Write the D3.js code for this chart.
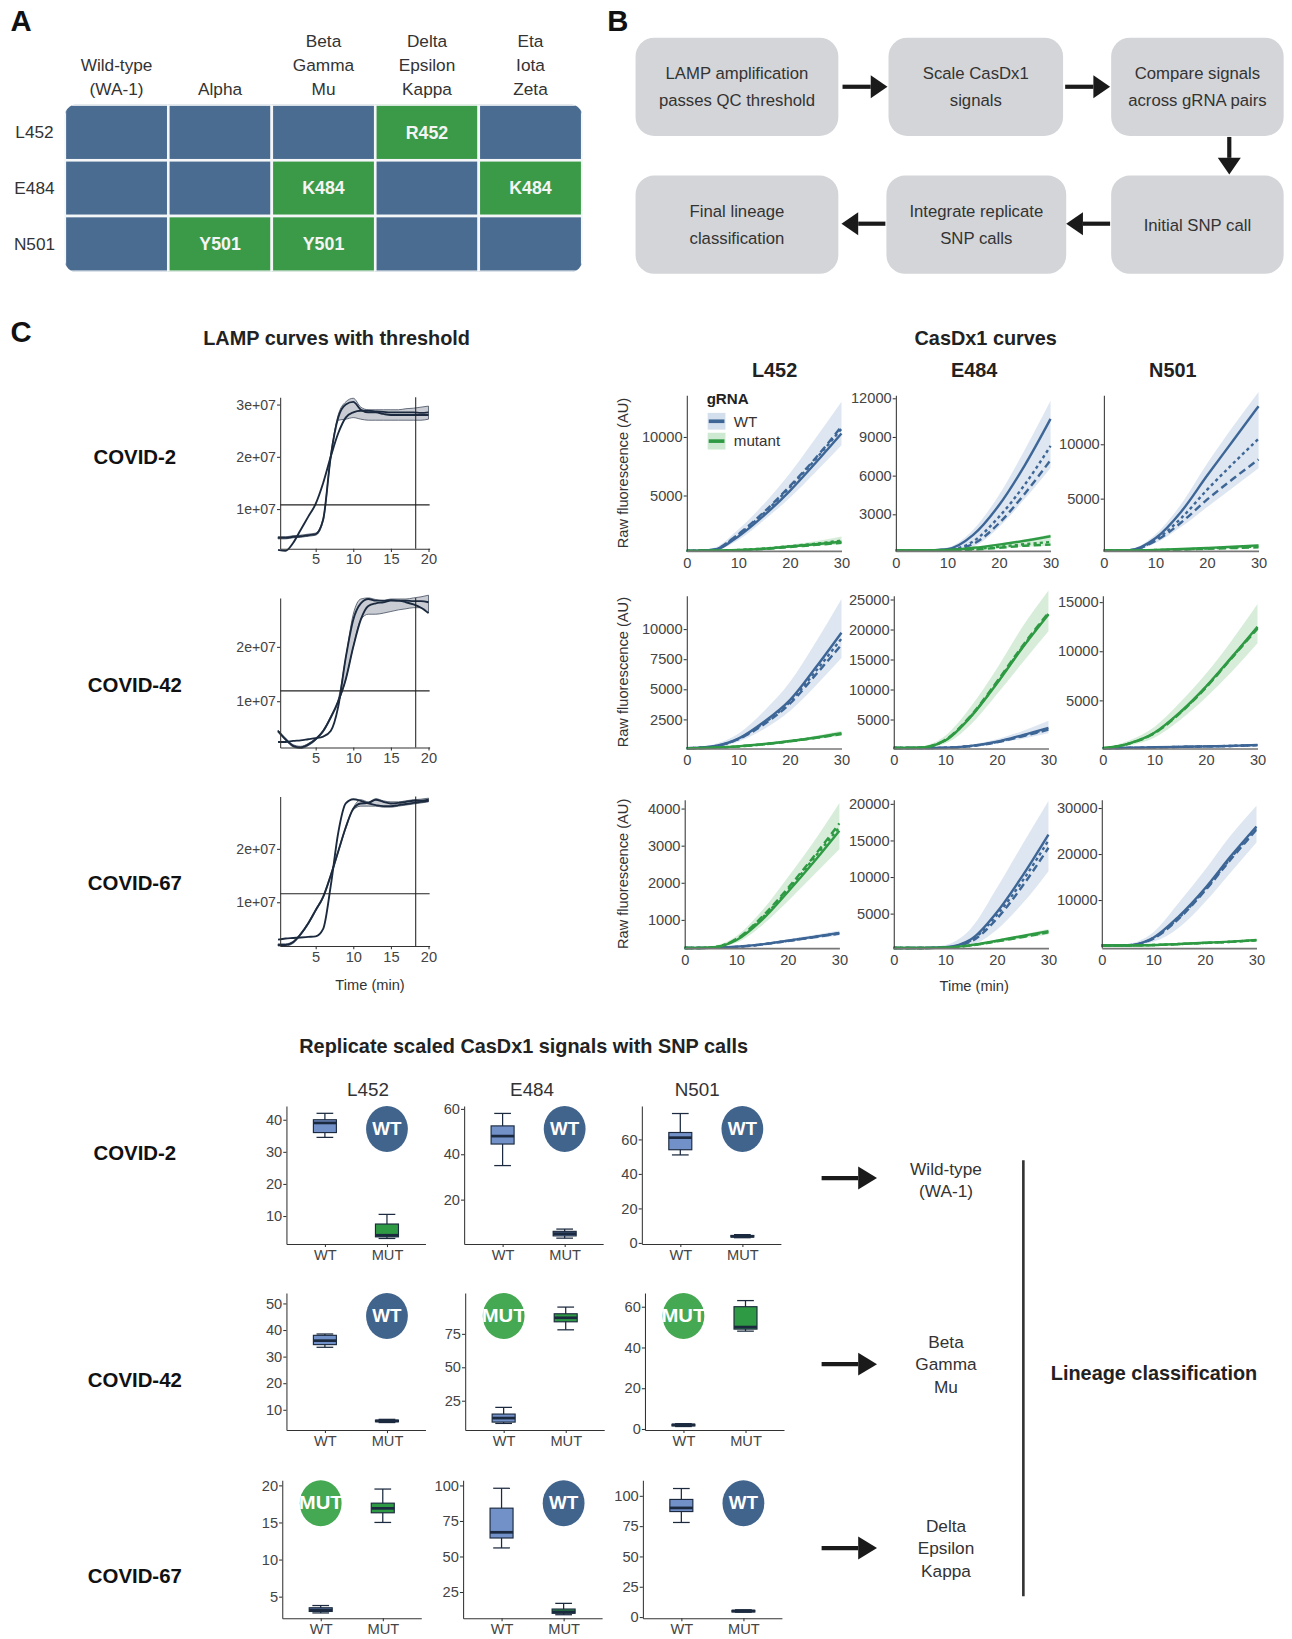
<!DOCTYPE html>
<html>
<head>
<meta charset="utf-8">
<script src="https://cdn.jsdelivr.net/npm/d3@7"></script>
<style>
  body { margin: 0; background: #fff; }
  svg text { font-family: "Liberation Sans", Arial, Helvetica, sans-serif; }
</style>
</head>
<body>
<div id="fig"></div>
<script>
// ---------- Panel A: mutation table ----------
const variants = [['Wild-type', '(WA-1)'], ['Alpha'], ['Beta', 'Gamma', 'Mu'], ['Delta', 'Epsilon', 'Kappa'], ['Eta', 'Iota', 'Zeta']];
const sites = ['L452', 'E484', 'N501'];
const mutationTable = [
  ['', '', '', 'R452', ''],
  ['', '', 'K484', '', 'K484'],
  ['', 'Y501', 'Y501', '', '']
];

// ---------- Panel B: workflow ----------
const workflowSteps = [
  ['LAMP amplification', 'passes QC threshold'],
  ['Scale CasDx1', 'signals'],
  ['Compare signals', 'across gRNA pairs'],
  ['Final lineage', 'classification'],
  ['Integrate replicate', 'SNP calls'],
  ['Initial SNP call']
];

// ---------- Panel C: samples ----------
const samples = ['COVID-2', 'COVID-42', 'COVID-67'];

// LAMP curves (fluorescence in units of 1e+07)
const lampTime = [0, 1, 2, 3, 4, 5, 6, 7, 8, 9, 10, 11, 12, 13, 14, 15, 16, 17, 18, 19, 20];
const lampCurveA = [
  [0.45, 0.45, 0.47, 0.48, 0.5, 0.52, 0.8, 2.0, 2.75, 3.0, 3.05, 2.9, 2.85, 2.85, 2.82, 2.8, 2.8, 2.8, 2.8, 2.8, 2.8],
  [0.45, 0.3, 0.18, 0.15, 0.2, 0.3, 0.45, 0.7, 1.0, 1.4, 2.0, 2.5, 2.75, 2.8, 2.82, 2.85, 2.85, 2.82, 2.78, 2.72, 2.62],
  [0.2, 0.2, 0.25, 0.4, 0.6, 0.85, 1.1, 1.5, 1.95, 2.4, 2.75, 2.85, 2.86, 2.92, 2.88, 2.85, 2.86, 2.88, 2.9, 2.9, 2.92]
];
const lampCurveB = [
  [0.22, 0.2, 0.35, 0.6, 0.85, 1.1, 1.5, 2.0, 2.45, 2.75, 2.85, 2.88, 2.88, 2.87, 2.86, 2.85, 2.85, 2.85, 2.85, 2.84, 2.85],
  [0.25, 0.25, 0.27, 0.28, 0.3, 0.32, 0.35, 0.45, 0.9, 1.8, 2.5, 2.8, 2.88, 2.85, 2.85, 2.86, 2.85, 2.85, 2.84, 2.84, 2.82],
  [0.3, 0.32, 0.33, 0.34, 0.35, 0.36, 0.5, 1.3, 2.3, 2.85, 2.93, 2.9, 2.85, 2.82, 2.8, 2.8, 2.82, 2.84, 2.86, 2.88, 2.9]
];
const lampBandLo = [
  [0.43, 0.43, 0.45, 0.46, 0.48, 0.5, 0.77, 1.96, 2.7, 2.72, 2.75, 2.72, 2.7, 2.7, 2.7, 2.7, 2.7, 2.7, 2.7, 2.7, 2.72],
  [0.43, 0.28, 0.16, 0.13, 0.18, 0.28, 0.43, 0.68, 0.97, 1.4, 2.0, 2.5, 2.6, 2.6, 2.62, 2.65, 2.68, 2.7, 2.72, 2.72, 2.62],
  [0.18, 0.18, 0.23, 0.38, 0.58, 0.83, 1.08, 1.48, 1.93, 2.38, 2.73, 2.8, 2.8, 2.8, 2.78, 2.78, 2.8, 2.82, 2.84, 2.86, 2.88]
];
const lampBandHi = [
  [0.47, 0.47, 0.49, 0.5, 0.52, 0.54, 0.83, 2.04, 2.8, 3.05, 3.12, 2.95, 2.9, 2.9, 2.9, 2.9, 2.9, 2.92, 2.93, 2.95, 2.97],
  [0.47, 0.32, 0.2, 0.17, 0.22, 0.32, 0.47, 0.72, 1.03, 1.8, 2.6, 2.88, 2.9, 2.87, 2.85, 2.88, 2.88, 2.88, 2.9, 2.92, 2.95],
  [0.22, 0.22, 0.27, 0.42, 0.62, 0.87, 1.12, 1.52, 1.97, 2.42, 2.77, 2.92, 2.88, 2.94, 2.9, 2.88, 2.88, 2.9, 2.92, 2.93, 2.95]
];
const lampThreshold = [1.08, 1.19, 1.16];
const lampCutoffTime = 18.3;
const lampYDomain = [[0.24, 3.14], [0.15, 2.9], [0.18, 2.98]];
const lampYTicks = [[1, 2, 3], [1, 2], [1, 2]];
const lampXTicks = [5, 10, 15, 20];

// CasDx1 curves: [sample][site], three replicate line types + ribbon
const casTime = [0, 5, 10, 15, 20, 25, 30];
const casWT = [
  [
    { solid: [270, 320, 1500, 3300, 5400, 7800, 10300], dash: [270, 360, 1700, 3600, 5800, 8200, 10900], dot: [270, 340, 1650, 3500, 5700, 8100, 10700], lo: [240, 260, 1200, 2900, 4800, 7000, 9300], hi: [300, 500, 2100, 4300, 6900, 9900, 13000] },
    { solid: [200, 200, 300, 1400, 3700, 6800, 10400], dash: [200, 200, 220, 700, 2300, 4600, 7200], dot: [200, 200, 250, 900, 2800, 5300, 8300], lo: [170, 170, 180, 500, 2000, 4200, 6600], hi: [230, 230, 420, 1800, 4500, 8000, 11800] },
    { solid: [220, 260, 1350, 3800, 7100, 10300, 13500], dash: [220, 250, 1100, 2800, 4900, 6800, 8600], dot: [220, 250, 1200, 3200, 5800, 8200, 10500], lo: [200, 220, 900, 2400, 4200, 6000, 7800], hi: [250, 350, 1700, 4500, 8200, 11600, 14800] }
  ],
  [
    { solid: [100, 250, 900, 2300, 4100, 6800, 9700], dash: [100, 230, 850, 2100, 3800, 6200, 8700], dot: [100, 240, 880, 2200, 3950, 6500, 9200], lo: [90, 180, 650, 1700, 3200, 5300, 7600], hi: [130, 400, 1300, 3200, 5600, 8900, 12500] },
    { solid: [250, 250, 300, 600, 1300, 2400, 3600], dash: [250, 250, 290, 560, 1200, 2200, 3300], dot: [250, 250, 295, 580, 1250, 2300, 3450], lo: [200, 200, 250, 450, 1000, 1800, 2700], hi: [300, 300, 380, 800, 1700, 3100, 4800] },
    { solid: [120, 170, 220, 270, 320, 370, 460], dash: [120, 165, 210, 260, 310, 360, 440], dot: [120, 168, 215, 265, 315, 365, 450], lo: [110, 140, 180, 220, 260, 300, 350], hi: [140, 200, 260, 320, 380, 440, 560] }
  ],
  [
    { solid: [240, 245, 275, 340, 440, 540, 650], dash: [240, 245, 270, 335, 430, 530, 630], dot: [240, 245, 272, 338, 435, 535, 640], lo: [240, 240, 255, 310, 400, 490, 580], hi: [250, 255, 290, 370, 480, 590, 710] },
    { solid: [300, 300, 400, 1500, 5200, 10200, 15800], dash: [300, 300, 350, 1200, 4300, 8800, 14000], dot: [300, 300, 380, 1350, 4800, 9500, 15000], lo: [290, 290, 310, 700, 2800, 6400, 10800], hi: [320, 330, 700, 3000, 8500, 14500, 20400] },
    { solid: [100, 150, 1800, 6500, 12500, 19500, 26000], dash: [100, 150, 1600, 6000, 12000, 18800, 25300], dot: [100, 150, 1700, 6200, 12200, 19100, 25700], lo: [50, 80, 900, 4000, 9500, 16000, 22500], hi: [150, 450, 3000, 9500, 16500, 24000, 30500] }
  ]
];
const casMut = [
  [
    { solid: [270, 280, 340, 450, 640, 830, 1050], dash: [270, 280, 330, 430, 600, 780, 950], dot: [270, 280, 350, 470, 670, 880, 1150], lo: [250, 260, 300, 380, 520, 680, 820], hi: [290, 300, 400, 560, 800, 1100, 1500] },
    { solid: [200, 200, 230, 400, 650, 950, 1300], dash: [200, 200, 200, 260, 400, 560, 650], dot: [200, 200, 210, 300, 480, 680, 850], lo: [180, 180, 190, 230, 350, 480, 560], hi: [220, 220, 260, 460, 730, 1050, 1450] },
    { solid: [220, 230, 280, 360, 460, 570, 700], dash: [220, 230, 260, 310, 380, 450, 520], dot: [220, 230, 270, 330, 410, 500, 600], lo: [200, 210, 240, 280, 340, 400, 460], hi: [240, 250, 310, 400, 520, 650, 800] }
  ],
  [
    { solid: [100, 150, 260, 450, 700, 1000, 1350], dash: [100, 145, 250, 430, 670, 960, 1280], dot: [100, 150, 255, 440, 690, 980, 1320], lo: [90, 130, 220, 380, 600, 860, 1150], hi: [110, 170, 300, 520, 800, 1140, 1550] },
    { solid: [250, 300, 1500, 5500, 11000, 17000, 22500], dash: [250, 300, 1600, 5700, 11300, 17300, 22800], dot: [250, 300, 1550, 5600, 11100, 17100, 22600], lo: [200, 250, 1000, 4200, 9200, 14500, 19700], hi: [300, 500, 2300, 7200, 13500, 20500, 26500] },
    { solid: [120, 600, 1700, 3800, 6400, 9400, 12500], dash: [120, 580, 1650, 3700, 6300, 9300, 12300], dot: [120, 590, 1680, 3750, 6350, 9350, 12400], lo: [110, 400, 1200, 3000, 5300, 7900, 10800], hi: [150, 900, 2300, 4800, 7700, 11100, 14800] }
  ],
  [
    { solid: [240, 250, 450, 1000, 1750, 2550, 3400], dash: [240, 250, 480, 1080, 1850, 2700, 3600], dot: [240, 260, 470, 1050, 1800, 2650, 3500], lo: [240, 245, 380, 850, 1500, 2200, 2900], hi: [260, 290, 560, 1250, 2150, 3100, 4150] },
    { solid: [300, 300, 350, 700, 1300, 1950, 2600], dash: [300, 300, 340, 650, 1200, 1800, 2450], dot: [300, 300, 345, 680, 1250, 1880, 2520], lo: [290, 290, 320, 580, 1050, 1600, 2150], hi: [310, 320, 390, 800, 1450, 2150, 2900] },
    { solid: [100, 110, 220, 450, 700, 950, 1300], dash: [100, 110, 200, 420, 660, 900, 1250], dot: [100, 110, 210, 430, 680, 920, 1270], lo: [60, 70, 150, 350, 570, 800, 1120], hi: [140, 150, 280, 550, 820, 1100, 1450] }
  ]
];
const casYDomain = [
  [[268, 13571], [162, 12243], [192, 14519]],
  [[87, 12760], [174, 25610], [106, 15638]],
  [[239, 4239], [286, 20571], [-455, 31818]]
];
const casYTicks = [
  [[5000, 10000], [3000, 6000, 9000, 12000], [5000, 10000]],
  [[2500, 5000, 7500, 10000], [5000, 10000, 15000, 20000, 25000], [5000, 10000, 15000]],
  [[1000, 2000, 3000, 4000], [5000, 10000, 15000, 20000], [10000, 20000, 30000]]
];
const casXTicks = [0, 10, 20, 30];

// Replicate scaled signals: [min, q1, median, q3, max]
const boxWT = [
  [[34.5, 36, 39, 40, 42], [35, 44.5, 48, 52.5, 58], [51, 54, 61, 64, 75]],
  [[33.5, 34.5, 36, 38, 38.5], [8, 9, 12, 15, 20], [1.2, 1.5, 2, 2.3, 2.6]],
  [[2.8, 3, 3.2, 3.5, 3.8], [56, 63, 67, 84, 98], [78, 87, 90, 97, 106]]
];
const boxMut = [
  [[3, 3.5, 4, 7.5, 10.5], [3, 4, 5, 6, 7], [3, 3.4, 3.8, 4.3, 4.8]],
  [[5.2, 5.5, 5.8, 6.1, 6.4], [78, 84, 87, 90, 95], [48, 49, 50, 60, 63]],
  [[15, 16.3, 16.9, 17.6, 19.5], [9, 10, 11, 13, 17], [4, 4.5, 5, 5.5, 6]]
];
const boxMutColour = [['green', 'blue', 'blue'], ['blue', 'green', 'green'], ['green', 'green', 'blue']];
const boxYDomain = [
  [[1.3, 44.3], [0.46, 61.3], [-0.6, 79.4]],
  [[2.4, 53.9], [3.1, 105.5], [-0.5, 66.7]],
  [[2.1, 20.7], [6.6, 103.7], [-0.9, 112.9]]
];
const boxYTicks = [
  [[10, 20, 30, 40], [20, 40, 60], [0, 20, 40, 60]],
  [[10, 20, 30, 40, 50], [25, 50, 75], [0, 20, 40, 60]],
  [[5, 10, 15, 20], [25, 50, 75, 100], [0, 25, 50, 75, 100]]
];
const snpCalls = [['WT', 'WT', 'WT'], ['WT', 'MUT', 'MUT'], ['MUT', 'WT', 'WT']];
const lineages = [['Wild-type', '(WA-1)'], ['Beta', 'Gamma', 'Mu'], ['Delta', 'Epsilon', 'Kappa']];

// ---------- colours ----------
const C = {
  tblBlue: '#4a6c91', tblGreen: '#3b9a48', box: '#d3d5d8',
  wt: '#3d6696', mut: '#2e9a43', wtBand: '#a9c0dc', mutBand: '#9bd3a3',
  navy: '#1b2a3f', axis: '#333', tick: '#444',
  boxBlue: '#7391c9', boxGreen: '#2f9a44', callWT: '#41648c', callMut: '#45a853'
};

// ---------- canvas (drawn in 1236-wide units, scaled to 1292) ----------
const S = 1292 / 1236;
const svg = d3.select('#fig').append('svg').attr('width', 1292).attr('height', 1639);
svg.append('rect').attr('width', 1292).attr('height', 1639).attr('fill', '#fff');
const root = svg.append('g').attr('transform', `scale(${S})`);
const plain = d3.format('d');

function txt(g, x, y, s, size, opts = {}) {
  return g.append('text').attr('x', x).attr('y', y)
    .attr('text-anchor', opts.anchor || 'middle')
    .attr('dy', opts.dy || '0.35em')
    .style('font-size', size + 'px')
    .style('font-weight', opts.bold ? 'bold' : 'normal')
    .attr('fill', opts.fill || '#333')
    .text(s);
}

function styleAxis(ax, fs) {
  ax.select('.domain').attr('stroke', C.axis).attr('stroke-width', 1);
  ax.selectAll('.tick line').attr('stroke', C.axis);
  ax.selectAll('.tick text').attr('fill', C.tick).style('font-size', fs + 'px');
}

function arrow(g, x1, y1, x2, y2, head = 16, half = 11, w = 4) {
  const a = Math.atan2(y2 - y1, x2 - x1);
  const bx = x2 - head * Math.cos(a), by = y2 - head * Math.sin(a);
  g.append('line').attr('x1', x1).attr('y1', y1).attr('x2', bx).attr('y2', by)
    .attr('stroke', '#1a1a1a').attr('stroke-width', w);
  const px = -Math.sin(a) * half, py = Math.cos(a) * half;
  g.append('polygon')
    .attr('points', `${x2},${y2} ${bx + px},${by + py} ${bx - px},${by - py}`)
    .attr('fill', '#1a1a1a');
}

// ---------- Panel letters ----------
txt(root, 10, 20, 'A', 28, { anchor: 'start', bold: true, fill: '#111' });
txt(root, 581, 20, 'B', 28, { anchor: 'start', bold: true, fill: '#111' });
txt(root, 10, 317, 'C', 28, { anchor: 'start', bold: true, fill: '#111' });

// ---------- Panel A ----------
const gA = root.append('g');
const xA = d3.scaleBand().domain(d3.range(variants.length)).range([62, 557]);
const yA = d3.scaleBand().domain(sites).range([100, 260]);
gA.append('clipPath').attr('id', 'tblclip').append('rect')
  .attr('x', 62).attr('y', 100).attr('width', 495).attr('height', 160).attr('rx', 11);
const cells = gA.append('g').attr('clip-path', 'url(#tblclip)');
sites.forEach((s, r) => {
  variants.forEach((v, c) => {
    const m = mutationTable[r][c];
    cells.append('rect').attr('x', xA(c)).attr('y', yA(s))
      .attr('width', xA.bandwidth()).attr('height', yA.bandwidth())
      .attr('fill', m ? C.tblGreen : C.tblBlue)
      .attr('stroke', '#f4f6f8').attr('stroke-width', 2.5);
    if (m) txt(gA, xA(c) + xA.bandwidth() / 2, yA(s) + yA.bandwidth() / 2, m, 17, { bold: true, fill: '#f4f4f4' });
  });
  txt(gA, 33, yA(s) + yA.bandwidth() / 2, s, 16.5);
});
variants.forEach((v, c) => {
  v.forEach((line, k) => {
    txt(gA, xA(c) + xA.bandwidth() / 2, 85 - (v.length - 1 - k) * 23, line, 16.5);
  });
});

// ---------- Panel B ----------
const gB = root.append('g');
const boxesB = [
  [608, 36, 194, 94], [850, 36, 167, 94], [1063, 36, 165, 94],
  [608, 168, 194, 94], [848, 168, 172, 94], [1063, 168, 165, 94]
];
workflowSteps.forEach((lines, i) => {
  const [x, y, w, h] = boxesB[i];
  gB.append('rect').attr('x', x).attr('y', y).attr('width', w).attr('height', h)
    .attr('rx', 18).attr('fill', C.box);
  lines.forEach((l, k) => {
    txt(gB, x + w / 2, y + h / 2 + (k - (lines.length - 1) / 2) * 26, l, 16, { fill: '#333' });
  });
});
arrow(gB, 806, 83, 849, 83);
arrow(gB, 1019, 83, 1062, 83);
arrow(gB, 1176, 131, 1176, 167);
arrow(gB, 1062, 214, 1020, 214);
arrow(gB, 847, 214, 805, 214);

// ---------- Panel C: LAMP ----------
txt(root, 322, 323, 'LAMP curves with threshold', 19, { bold: true, fill: '#222' });
txt(root, 943, 323, 'CasDx1 curves', 19, { bold: true, fill: '#222' });
const lampRows = [[380, 525], [572, 715], [762, 905]];
const lampLabelY = [437, 655, 845];
const xL = d3.scaleLinear().domain([0.28, 20.15]).range([268, 411]);

samples.forEach((s, i) => {
  const g = root.append('g');
  const [top, bot] = lampRows[i];
  const y = d3.scaleLinear().domain(lampYDomain[i]).range([bot, top]);
  txt(root, 129, lampLabelY[i], s, 19.5, { bold: true, fill: '#111' });

  const area = d3.area().x((d, k) => xL(lampTime[k])).y0(d => y(d[0])).y1(d => y(d[1])).curve(d3.curveMonotoneX);
  g.append('path').datum(lampBandLo[i].map((v, k) => [v, lampBandHi[i][k]]))
    .attr('d', area).attr('fill', '#c9ccd2').attr('stroke', '#4a5566').attr('stroke-width', 0.8);
  const line = d3.line().x((d, k) => xL(lampTime[k])).y(d => y(d)).curve(d3.curveMonotoneX);
  [lampCurveA[i], lampCurveB[i]].forEach(c => {
    g.append('path').datum(c).attr('d', line).attr('fill', 'none')
      .attr('stroke', C.navy).attr('stroke-width', 1.8);
  });
  g.append('line').attr('x1', 268).attr('x2', 411)
    .attr('y1', y(lampThreshold[i])).attr('y2', y(lampThreshold[i]))
    .attr('stroke', '#222').attr('stroke-width', 1);
  g.append('line').attr('x1', xL(lampCutoffTime)).attr('x2', xL(lampCutoffTime))
    .attr('y1', bot).attr('y2', top).attr('stroke', '#222').attr('stroke-width', 1);

  const ay = g.append('g').attr('transform', 'translate(268,0)')
    .call(d3.axisLeft(y).tickValues(lampYTicks[i]).tickSize(3).tickSizeOuter(0).tickPadding(1)
      .tickFormat(d => d + 'e+07'));
  styleAxis(ay, 13.5);
  const ax = g.append('g').attr('transform', `translate(0,${bot})`)
    .call(d3.axisBottom(xL).tickValues(lampXTicks).tickSize(3).tickSizeOuter(0).tickPadding(2));
  styleAxis(ax, 14);
});
txt(root, 354, 942, 'Time (min)', 14, { fill: '#333' });

// ---------- Panel C: CasDx1 ----------
const casRows = [[378, 527], [570, 716], [765, 907]];
const casLefts = [[657, 857, 1056], [657, 855, 1055], [655, 855, 1054]];
const casW = 148;
const dashes = { solid: null, dash: '7,4', dot: '3,3' };
sites.forEach((s, j) => txt(root, [741, 932, 1122][j], 354, s, 19, { bold: true, fill: '#222' }));

samples.forEach((s, i) => {
  const [top, bot] = casRows[i];
  txt(root, 596, (top + bot) / 2, 'Raw fluorescence (AU)', 14, { fill: '#333' })
    .attr('transform', `rotate(-90,596,${(top + bot) / 2})`);
  sites.forEach((site, j) => {
    const left = casLefts[i][j];
    const g = root.append('g');
    const x = d3.scaleLinear().domain([0, 30]).range([left, left + casW]);
    const y = d3.scaleLinear().domain(casYDomain[i][j]).range([bot, top]);
    const area = d3.area().x((d, k) => x(casTime[k])).y0(d => y(d[0])).y1(d => y(d[1])).curve(d3.curveMonotoneX);
    const line = d3.line().x((d, k) => x(casTime[k])).y(d => y(d)).curve(d3.curveMonotoneX);
    const groups = [[casWT[i][j], C.wt, C.wtBand], [casMut[i][j], C.mut, C.mutBand]];
    groups.forEach(([grp, col, band]) => {
      g.append('path').datum(grp.lo.map((v, k) => [v, grp.hi[k]]))
        .attr('d', area).attr('fill', band).attr('opacity', 0.4);
    });
    groups.forEach(([grp, col]) => {
      ['solid', 'dot', 'dash'].forEach(t => {
        g.append('path').datum(grp[t]).attr('d', line).attr('fill', 'none')
          .attr('stroke', col).attr('stroke-width', 2.3)
          .attr('stroke-dasharray', dashes[t]);
      });
    });
    const ay = g.append('g').attr('transform', `translate(${left},0)`)
      .call(d3.axisLeft(y).tickValues(casYTicks[i][j]).tickSize(3).tickSizeOuter(0).tickPadding(1)
        .tickFormat(plain));
    styleAxis(ay, 14);
    const ax = g.append('g').attr('transform', `translate(0,${bot})`)
      .call(d3.axisBottom(x).tickValues(casXTicks).tickSize(0).tickPadding(6).tickFormat(plain));
    styleAxis(ax, 14);
    ax.select('.domain').attr('stroke', '#777').attr('stroke-width', 1.5);
  });
});
txt(root, 932, 943, 'Time (min)', 14, { fill: '#333' });

// legend inside first CasDx1 panel
const lg = root.append('g');
txt(lg, 676, 381, 'gRNA', 14.5, { anchor: 'start', bold: true, fill: '#222' });
[['WT', C.wt, C.wtBand], ['mutant', C.mut, C.mutBand]].forEach(([lab, col, band], k) => {
  const cy = 403 + k * 19;
  lg.append('rect').attr('x', 677).attr('y', cy - 8).attr('width', 17).attr('height', 16)
    .attr('fill', band).attr('opacity', 0.5);
  lg.append('line').attr('x1', 678).attr('x2', 693).attr('y1', cy).attr('y2', cy)
    .attr('stroke', col).attr('stroke-width', 3.5);
  txt(lg, 702, cy, lab, 14.5, { anchor: 'start', fill: '#333' });
});

// ---------- Panel C: replicate boxplots ----------
txt(root, 501, 1001, 'Replicate scaled CasDx1 signals with SNP calls', 19, { bold: true, fill: '#222' });
sites.forEach((s, j) => txt(root, [352, 509, 667][j], 1042, s, 18, { fill: '#333' }));
const boxRows = [[1058, 1190], [1237, 1368], [1416, 1548]];
const boxAxisX = [[274, 444, 614], [274, 445, 617], [270, 443, 615]];
const boxLabelY = [1103, 1320, 1508];

samples.forEach((s, i) => {
  const [top, bot] = boxRows[i];
  txt(root, 129, boxLabelY[i], s, 19.5, { bold: true, fill: '#111' });
  sites.forEach((site, j) => {
    const ax0 = boxAxisX[i][j];
    const g = root.append('g');
    const x = d3.scalePoint().domain(['WT', 'MUT']).range([ax0, ax0 + 133]).padding(0.62);
    const y = d3.scaleLinear().domain(boxYDomain[i][j]).range([bot, top]);
    const boxes = [
      ['WT', boxWT[i][j], C.boxBlue],
      ['MUT', boxMut[i][j], boxMutColour[i][j] === 'green' ? C.boxGreen : C.boxBlue]
    ];
    boxes.forEach(([key, st, fill]) => {
      const cx = x(key);
      g.append('line').attr('x1', cx).attr('x2', cx).attr('y1', y(st[0])).attr('y2', y(st[4]))
        .attr('stroke', C.navy).attr('stroke-width', 1.2);
      [st[0], st[4]].forEach(v => g.append('line').attr('x1', cx - 8).attr('x2', cx + 8)
        .attr('y1', y(v)).attr('y2', y(v)).attr('stroke', C.navy).attr('stroke-width', 1.2));
      g.append('rect').attr('x', cx - 11).attr('width', 22)
        .attr('y', y(st[3])).attr('height', Math.max(y(st[1]) - y(st[3]), 1.5))
        .attr('fill', fill).attr('stroke', C.navy).attr('stroke-width', 1.1);
      g.append('line').attr('x1', cx - 11).attr('x2', cx + 11).attr('y1', y(st[2])).attr('y2', y(st[2]))
        .attr('stroke', C.navy).attr('stroke-width', 2.6);
    });
    // SNP call badge sits in the slot of the low-signal gRNA
    const call = snpCalls[i][j];
    const bx = x(call === 'WT' ? 'MUT' : 'WT');
    const by = top + 22;
    g.append('ellipse').attr('cx', bx).attr('cy', by).attr('rx', 20).attr('ry', 22)
      .attr('fill', call === 'WT' ? C.callWT : C.callMut);
    txt(g, bx, by, call, 17, { bold: true, fill: '#fff' })
      .attr('textLength', call === 'WT' ? 28 : 42).attr('lengthAdjust', 'spacingAndGlyphs');

    const ay = g.append('g').attr('transform', `translate(${ax0},0)`)
      .call(d3.axisLeft(y).tickValues(boxYTicks[i][j]).tickSize(3).tickSizeOuter(0).tickPadding(1));
    styleAxis(ay, 14);
    const axb = g.append('g').attr('transform', `translate(0,${bot})`)
      .call(d3.axisBottom(x).tickSize(3).tickSizeOuter(0).tickPadding(2));
    styleAxis(axb, 14);
  });
});

// ---------- lineage classification ----------
const gL = root.append('g');
const lineageY = [1127, 1305, 1481];
lineages.forEach((lines, k) => {
  arrow(gL, 786, lineageY[k], 839, lineageY[k], 18, 11, 4);
  lines.forEach((l, n) => {
    txt(gL, 905, lineageY[k] + (n - (lines.length - 1) / 2) * 21.5 + (lines.length === 2 ? 2 : 0), l, 16.5, { fill: '#333' });
  });
});
gL.append('line').attr('x1', 979).attr('x2', 979).attr('y1', 1110).attr('y2', 1527)
  .attr('stroke', '#333').attr('stroke-width', 2.5);
txt(gL, 1104, 1314, 'Lineage classification', 19, { bold: true, fill: '#222' });
</script>
</body>
</html>
